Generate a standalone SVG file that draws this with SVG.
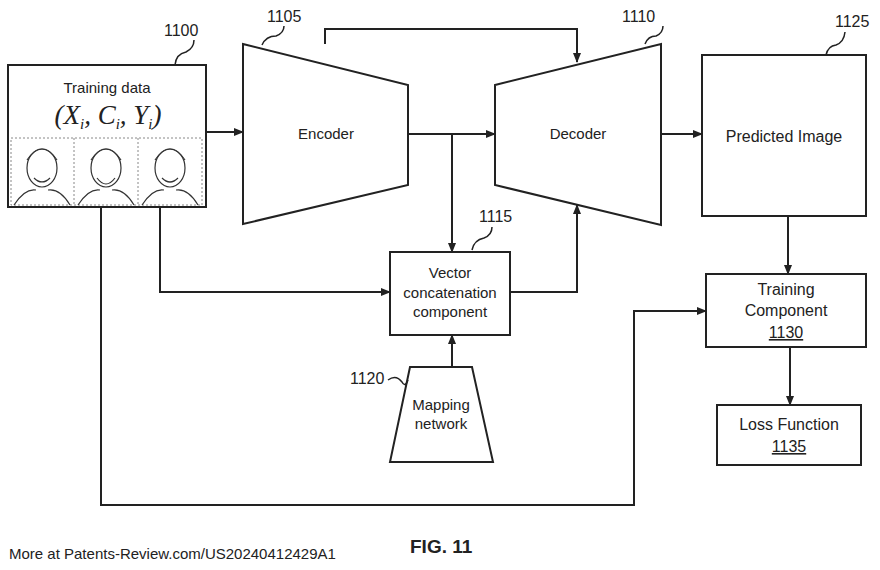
<svg xmlns="http://www.w3.org/2000/svg" width="880" height="570" viewBox="0 0 880 570">
<defs><marker id="a" markerWidth="10" markerHeight="8" refX="9" refY="4" orient="auto" markerUnits="userSpaceOnUse"><path d="M0,0L10,4L0,8z" fill="#222"/></marker></defs>
<style>
.s{fill:#fff;stroke:#222;stroke-width:2}
.c{fill:none;stroke:#222;stroke-width:2;marker-end:url(#a)}
.l{fill:none;stroke:#222;stroke-width:1.5}
text{font-family:"Liberation Sans",Arial,sans-serif;fill:#222}
.t{font-size:15px;text-anchor:middle}
.n{font-size:16px;text-anchor:middle}
.f{fill:none;stroke:#333;stroke-width:1.2}
</style>
<rect width="880" height="570" fill="#fff"/>
<g id="n1100">
<rect class="s" x="8" y="65" width="198" height="142"/>
<text class="t" x="107" y="93" font-size="14">Training data</text>
<text x="108" y="124" font-size="27" text-anchor="middle" font-style="italic" style="font-family:'Liberation Serif',serif">(X<tspan font-size="15" dy="5">i</tspan><tspan dy="-5">, C</tspan><tspan font-size="15" dy="5">i</tspan><tspan dy="-5">, Y</tspan><tspan font-size="15" dy="5">i</tspan><tspan dy="-5">)</tspan></text>
<rect x="11" y="138" width="191" height="67" fill="none" stroke="#888" stroke-dasharray="2,2"/>
<line x1="74" y1="138" x2="74" y2="205" stroke="#888" stroke-dasharray="2,2"/>
<line x1="138" y1="138" x2="138" y2="205" stroke="#888" stroke-dasharray="2,2"/>
<g class="f">
<ellipse cx="42" cy="168" rx="15" ry="19"/><path d="M27,160 Q42,138 57,160"/><path d="M34,178 Q42,186 50,178"/><path d="M14,205 Q25,188 36,190 M48,190 Q60,188 70,205"/>
<ellipse cx="106" cy="168" rx="15" ry="19"/><path d="M91,160 Q106,138 121,160"/><path d="M97,178 Q106,190 115,178"/><path d="M78,205 Q89,188 100,190 M112,190 Q124,188 134,205"/>
<ellipse cx="170" cy="168" rx="15" ry="19"/><path d="M155,160 Q170,138 185,160"/><path d="M162,178 Q170,186 178,178"/><path d="M142,205 Q153,188 164,190 M176,190 Q188,188 198,205"/>
</g>
</g>
<g id="n1105"><path class="s" d="M243,44L408,85L408,185L243,224z"/><text class="t" x="326" y="139">Encoder</text></g>
<g id="n1110"><path class="s" d="M495,85L661,44L661,225L495,185z"/><text class="t" x="578" y="139">Decoder</text></g>
<g id="n1125"><rect class="s" x="702" y="55" width="164" height="161"/><text class="n" x="784" y="142" font-size="17">Predicted Image</text></g>
<g id="n1115"><rect class="s" x="390" y="252" width="120" height="83"/><text class="t" x="450" y="278" font-size="14">Vector</text><text class="t" x="450" y="298" font-size="14">concatenation</text><text class="t" x="450" y="317" font-size="14">component</text></g>
<g id="n1120"><path class="s" d="M410,367L472,367L493,462L390,462z"/><text class="t" x="441" y="410" font-size="14">Mapping</text><text class="t" x="441" y="429" font-size="14">network</text></g>
<g id="n1130"><rect class="s" x="706" y="274" width="160" height="73"/><text class="n" x="786" y="295">Training</text><text class="n" x="786" y="316">Component</text><text class="n" x="786" y="338" text-decoration="underline">1130</text></g>
<g id="n1135"><rect class="s" x="717" y="405" width="144" height="60"/><text class="n" x="789" y="430">Loss Function</text><text class="n" x="789" y="452" text-decoration="underline">1135</text></g>
<g id="connectors">
<path class="c" d="M206,132H243"/>
<path class="c" d="M408,134H495"/>
<path class="c" d="M452,134V252"/>
<path class="c" d="M325,44V29H577V62"/>
<path class="c" d="M510,292H577V205"/>
<path class="c" d="M160,207V292H390"/>
<path class="c" d="M452,367V335"/>
<path class="c" d="M661,134H702"/>
<path class="c" d="M788,216V274"/>
<path class="c" d="M790,347V405"/>
<path class="c" d="M101,207V505H634V311H706"/>
</g>
<g id="labels" font-size="16">
<text x="164" y="36">1100</text><path class="l" d="M175,65 Q176,54 186,52 Q194,48 194,40"/>
<text x="267" y="22">1105</text><path class="l" d="M262,45 Q266,36 276,36 Q284,33 284,26"/>
<text x="622" y="22">1110</text><path class="l" d="M645,44 Q648,36 656,36 Q663,33 663,26"/>
<text x="835" y="27">1125</text><path class="l" d="M826,55 Q828,46 836,45 Q844,42 845,32"/>
<text x="479" y="222">1115</text><path class="l" d="M472,250 Q474,240 484,238 Q492,235 492,227"/>
<text x="350" y="384">1120</text><path class="l" d="M388,380 Q396,374 402,382 Q405,388 408,380"/>
<text x="9" y="559" font-size="15">More at Patents-Review.com/US20240412429A1</text>
<text x="410" y="553" font-size="19" font-weight="bold">FIG. 11</text>
</g>
</svg>
